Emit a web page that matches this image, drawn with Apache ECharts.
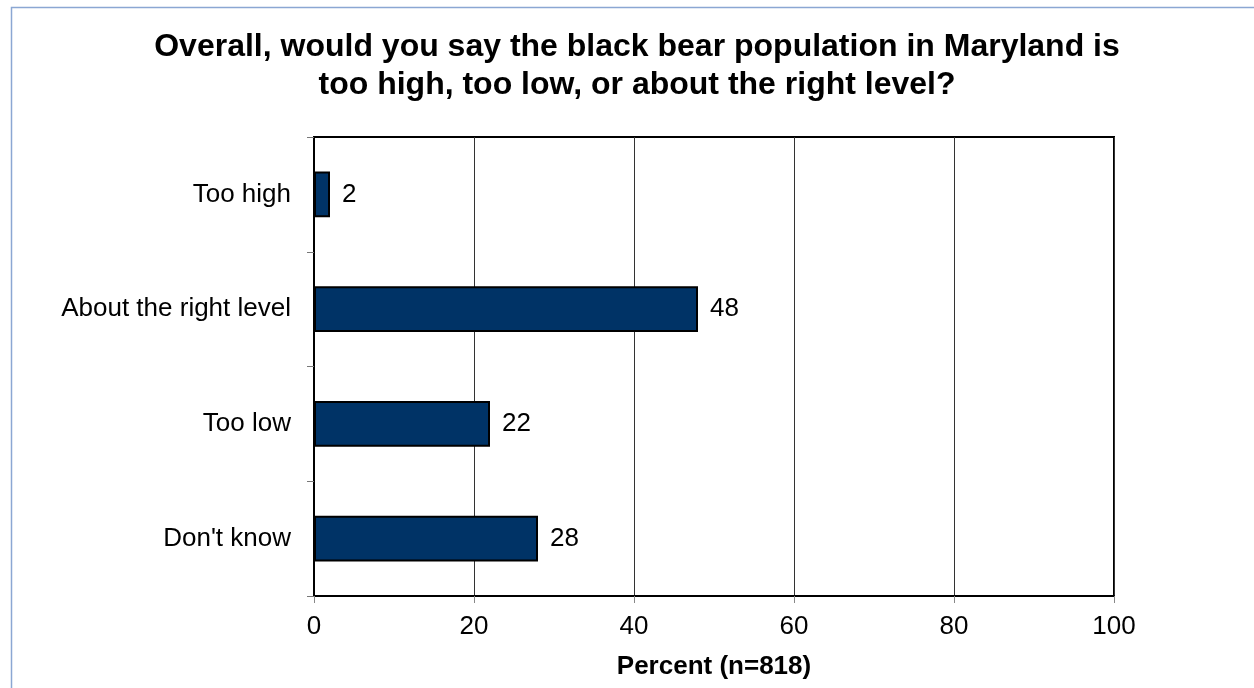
<!DOCTYPE html>
<html>
<head>
<meta charset="utf-8">
<script src="https://cdn.jsdelivr.net/npm/echarts@6/dist/echarts.min.js"></script>
<style>
  html, body { margin: 0; padding: 0; background: #fff; }
  #chart { width: 1254px; height: 688px; }
</style>
</head>
<body>
<div id="chart"></div>
<script>
// Survey responses: opinion on the black bear population level
const categories = ['Too high', 'About the right level', 'Too low', "Don't know"];
const percents = [2, 48, 22, 28];
const xTicks = [0, 20, 40, 60, 80, 100];

const chart = echarts.init(document.getElementById('chart'));
const FONT = '"Liberation Sans", Arial, sans-serif';

chart.setOption({
  backgroundColor: '#ffffff',
  animation: false,
  graphic: [{
    type: 'rect',
    shape: { x: 11.5, y: 7.5, width: 1260, height: 700 },
    style: { fill: 'none', stroke: '#8ba7d3', lineWidth: 1.5 },
    silent: true
  }],
  title: {
    text: 'Overall, would you say the black bear population in Maryland is\ntoo high, too low, or about the right level?',
    left: 632,
    textAlign: 'center',
    top: 23,
    textStyle: {
      fontFamily: FONT, fontSize: 32, fontWeight: 'bold', color: '#000', lineHeight: 38
    }
  },
  grid: {
    left: 314, right: 140, top: 137, bottom: 92,
    show: true, borderColor: '#000', borderWidth: 2, backgroundColor: '#fff'
  },
  xAxis: {
    type: 'value',
    min: 0, max: 100, interval: 20,
    name: 'Percent (n=818)',
    nameLocation: 'middle',
    nameGap: 58,
    nameTextStyle: { fontFamily: FONT, fontSize: 26, fontWeight: 'bold', color: '#000' },
    axisLine: { show: true, lineStyle: { color: '#000', width: 2 } },
    axisTick: { show: true, length: 7, lineStyle: { color: '#888', width: 1 } },
    axisLabel: {
      fontFamily: FONT, fontSize: 26, color: '#000', margin: 18,
      formatter: v => (xTicks.includes(v) ? String(v) : '')
    },
    splitLine: { show: true, lineStyle: { color: '#333', width: 1 } }
  },
  yAxis: {
    type: 'category',
    data: categories,
    inverse: true,
    axisLine: { show: true, lineStyle: { color: '#000', width: 2 } },
    axisTick: { show: true, length: 7, inside: false, lineStyle: { color: '#777', width: 1 } },
    axisLabel: { fontFamily: FONT, fontSize: 26, color: '#000', margin: 23 },
    splitLine: { show: false }
  },
  series: [{
    type: 'bar',
    data: percents,
    barWidth: '40%',
    itemStyle: { color: '#003366', borderColor: '#000', borderWidth: 2 },
    label: {
      show: true, position: 'right', distance: 12,
      fontFamily: FONT, fontSize: 26, color: '#000'
    }
  }]
});
</script>
</body>
</html>
